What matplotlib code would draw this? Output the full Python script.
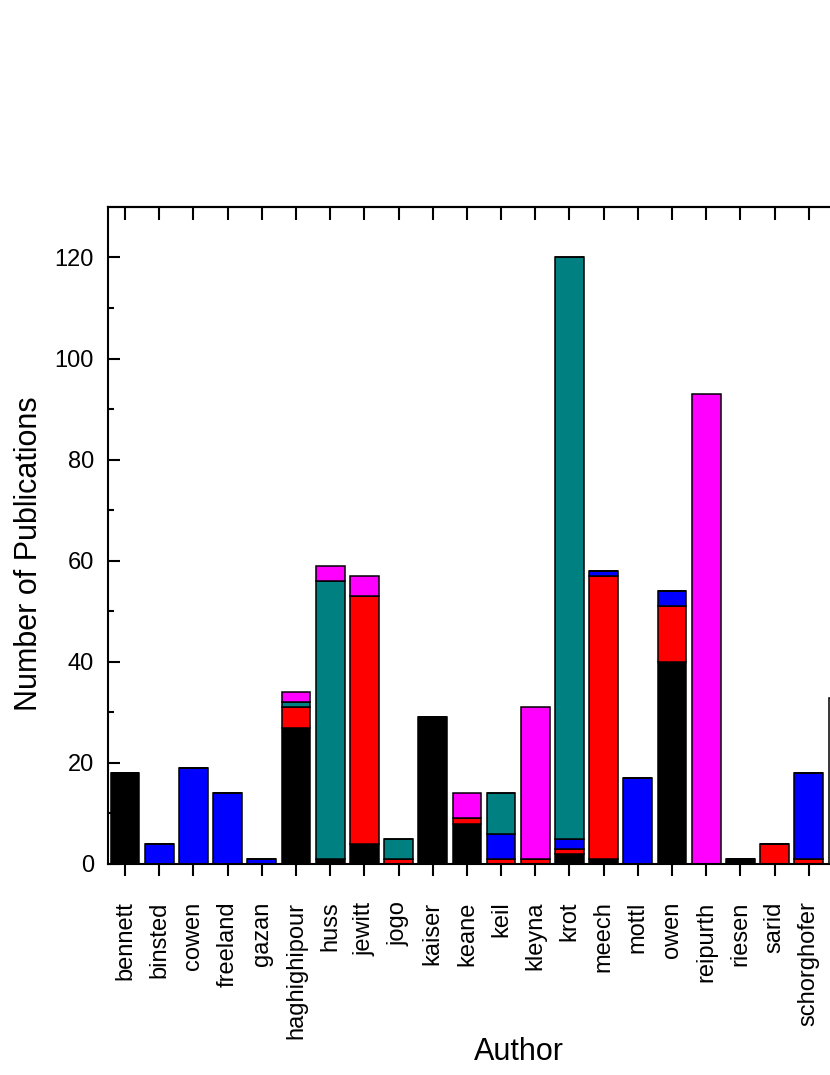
import numpy as np
import matplotlib
matplotlib.use('Agg')
import matplotlib.pyplot as plt

# authors on the x axis
authors = ['bennett', 'binsted', 'cowen', 'freeland', 'gazan', 'haghighipour', 'huss',
           'jewitt', 'jogo', 'kaiser', 'keane', 'keil', 'kleyna', 'krot', 'meech', 'mottl',
           'owen', 'reipurth', 'riesen', 'sarid', 'schorghofer']

# stacked pieces, bottom to top
black = [18, 0, 0, 0, 0, 27, 1, 4, 0, 29, 8, 0, 0, 2, 1, 0, 40, 0, 1, 0, 0]
red = [0, 0, 0, 0, 0, 4, 0, 49, 1, 0, 1, 1, 1, 1, 56, 0, 11, 0, 0, 4, 1]
blue = [0, 4, 19, 14, 1, 0, 0, 0, 0, 0, 0, 5, 0, 2, 1, 17, 3, 0, 0, 0, 17]
teal = [0, 0, 0, 0, 0, 1, 55, 0, 4, 0, 0, 8, 0, 115, 0, 0, 0, 0, 0, 0, 0]
magenta = [0, 0, 0, 0, 0, 2, 3, 4, 0, 0, 5, 0, 30, 0, 0, 0, 0, 93, 0, 0, 0]

yticks = [0, 20, 40, 60, 80, 100, 120]

if __name__ == '__main__':
    plt.rcParams['font.family'] = ['Liberation Sans', 'DejaVu Sans']

    fig = plt.figure(figsize=(8.3, 10.75), dpi=100)
    ax = fig.add_axes([0.1301, 0.1963, 0.8855, 0.6112])

    x = np.arange(len(authors))
    stack = [black, red, blue, teal, magenta]
    colors = ['#000000', '#FF0000', '#0000FF', '#008080', '#FF00FF']
    bottom = np.zeros(len(authors))
    handles = []
    for vals, col in zip(stack, colors):
        vals = np.array(vals, dtype=float)
        b = ax.bar(x, vals, width=0.84, bottom=bottom, color=col,
                   edgecolor='black', linewidth=1.1)
        handles.append(b)
        bottom += vals

    ax.set_xlim(-0.5, 21.0)
    ax.set_ylim(0, 130)

    # 坐标轴样式
    for side in ['left', 'top', 'bottom']:
        ax.spines[side].set_linewidth(1.5)
    ax.spines['right'].set_visible(False)

    ax.set_xticks(x)
    ax.set_xticklabels(authors)
    ax.tick_params(axis='x', direction='out', length=8.6, width=1.5, pad=18.5,
                   labelsize=17, labelrotation=90)
    ax.set_yticks(yticks)
    ax.set_yticks(np.arange(10, 130, 20), minor=True)
    ax.tick_params(axis='y', which='major', direction='in', length=8.6, width=1.5,
                   pad=10, labelsize=17, right=False)
    ax.tick_params(axis='y', which='minor', direction='in', length=4.3, width=1.5, right=False)
    ax.tick_params(axis='x', which='minor', bottom=False, top=False)

    # 顶部刻度朝内
    top = ax.secondary_xaxis('top')
    top.set_xticks(x)
    top.tick_params(axis='x', direction='in', length=9, width=1.5, labeltop=False)
    top.spines['top'].set_linewidth(1.5)

    ax.set_xlabel('Author', fontsize=22)
    ax.set_ylabel('Number of Publications', fontsize=22)
    ax.xaxis.set_label_coords(0.559, -0.263)
    ax.yaxis.set_label_coords(-0.0864, 0.472)

    # 图例在画面外，只露出左边框
    leg = ax.legend(handles=handles, labels=[''] * len(handles), loc='lower left',
                    bbox_to_anchor=(0.981, 0.0), borderaxespad=0, fontsize=15.7,
                    fancybox=False, framealpha=1)
    leg.get_frame().set_edgecolor('black')
    leg.get_frame().set_linewidth(1.1)

    fig.savefig('out.png', dpi=100)
